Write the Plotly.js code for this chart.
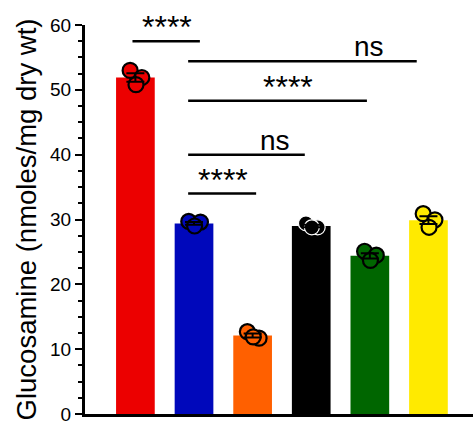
<!DOCTYPE html>
<html>
<head>
<meta charset="utf-8">
<script src="https://cdn.plot.ly/plotly-3.0.1.min.js"></script>
<style>html,body{margin:0;padding:0;background:#fff;}#chart{width:473px;height:426px;}</style>
</head>
<body>
<div id="chart"></div>
<script>
// ---- data ----
const categories = ['Group 1', 'Group 2', 'Group 3', 'Group 4', 'Group 5', 'Group 6'];
const barMeans = [51.9, 29.4, 12.1, 29.0, 24.4, 29.9];
const barSEM = [0.64, 0.22, 0.31, 0.2, 0.41, 0.61];
const barColors = ['#ec0000', '#0008bb', '#ff6000', '#000000', '#006600', '#ffea00'];
const pointValues = [
  [53.0, 51.9, 50.8],
  [29.7, 29.6, 29.0],
  [12.7, 11.7, 11.9],
  [29.4, 28.8, 28.8],
  [25.1, 24.5, 23.7],
  [30.9, 29.95, 28.8]
];
const pointJitter = [-0.09, 0.11, 0.01];
// significance brackets: x start/end (category units), y (data units), label
const bracketX0 = [-0.05, 0.9, 0.9, 0.9, 0.9];
const bracketX1 = [1.1, 4.8, 3.95, 2.89, 2.06];
const bracketY = [57.5, 54.4, 48.3, 40.0, 34.0];
const bracketLabels = ['****', 'ns', '****', 'ns', '****'];
const bracketLabelX = [0.54, 3.99, 2.6, 2.38, 1.5];
const yTickVals = [0, 10, 20, 30, 40, 50, 60];

const FONT = 'Liberation Sans, Arial, sans-serif';
const xIdx = categories.map((c, i) => i);

const traces = [];
traces.push({
  type: 'bar', x: xIdx, y: barMeans, width: 0.66,
  marker: {color: barColors, line: {width: 0}},
  hoverinfo: 'skip', showlegend: false
});
categories.forEach((c, i) => {
  traces.push({
    type: 'scatter', mode: 'markers',
    x: pointValues[i].map((v, k) => i + pointJitter[k]),
    y: pointValues[i],
    marker: {size: 15, color: barColors[i],
      line: {color: i === 3 ? '#ffffff' : '#000000', width: i === 3 ? 1.2 : 2.2}},
    hoverinfo: 'skip', showlegend: false
  });
});
traces.push({
  type: 'scatter', mode: 'markers', x: xIdx, y: barMeans,
  marker: {size: 1, color: 'rgba(0,0,0,0)'},
  error_y: {type: 'data', array: barSEM, visible: true, color: '#000', thickness: 2, width: 9},
  hoverinfo: 'skip', showlegend: false
});

const shapes = bracketY.map((y, i) => ({
  type: 'line', xref: 'x', yref: 'y',
  x0: bracketX0[i], x1: bracketX1[i], y0: y, y1: y,
  line: {color: '#000', width: 2.5}
}));
const annotations = bracketY.map((y, i) => {
  const isNs = bracketLabels[i] === 'ns';
  return {
    xref: 'x', yref: 'y', x: bracketLabelX[i], y: y,
    text: bracketLabels[i], showarrow: false,
    xanchor: 'center', yanchor: 'bottom',
    yshift: isNs ? -3 : -6,
    font: {family: FONT, size: isNs ? 28 : 32, color: '#000'}
  };
});

const layout = {
  width: 473, height: 426,
  margin: {l: 85, r: 0, t: 25, b: 12, pad: 0},
  paper_bgcolor: '#fff', plot_bgcolor: '#fff',
  showlegend: false,
  xaxis: {
    range: [-0.86, 5.76], showgrid: false, zeroline: false,
    showticklabels: false, ticks: '', showline: true,
    linecolor: '#000', linewidth: 3, automargin: false
  },
  yaxis: {
    range: [0, 60], tickvals: yTickVals, ticktext: yTickVals.map(String),
    showgrid: false, zeroline: false,
    showline: true, linecolor: '#000', linewidth: 3,
    ticks: 'outside', ticklen: 7, tickwidth: 2, tickcolor: '#000',
    minor: {dtick: 2.5, ticks: 'outside', ticklen: 4, tickwidth: 2, tickcolor: '#000', showgrid: false},
    tickfont: {family: FONT, size: 19, color: '#000'},
    title: {text: 'Glucosamine (nmoles/mg dry wt)', font: {family: FONT, size: 27.5, color: '#000'}, standoff: 6},
    automargin: false
  },
  shapes: shapes,
  annotations: annotations
};

Plotly.newPlot('chart', traces, layout, {staticPlot: true, displayModeBar: false});
</script>
</body>
</html>
